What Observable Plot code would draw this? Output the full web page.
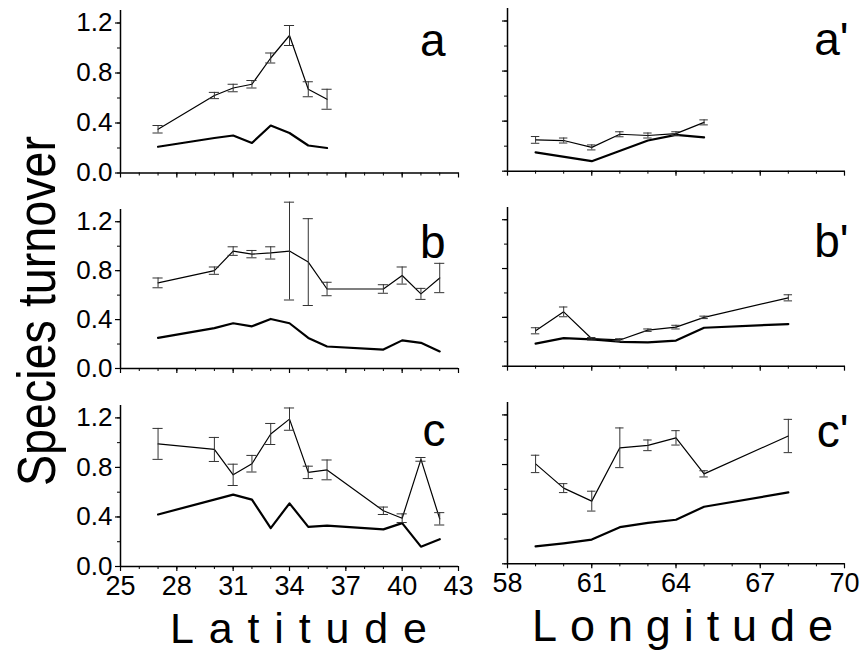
<!DOCTYPE html>
<html><head><meta charset="utf-8">
<script src="https://cdn.jsdelivr.net/npm/d3@7"></script>
<script src="https://cdn.jsdelivr.net/npm/@observablehq/plot@0.6"></script>
<style>
html,body{margin:0;padding:0;background:#fff;}
#chart{position:relative;width:866px;height:652px;overflow:hidden;font-family:"Liberation Sans",Arial,sans-serif;background:#fff;}
.panel{position:absolute;}
.panel svg{overflow:visible;max-width:none;background:transparent;}
#titles{position:absolute;left:0;top:0;pointer-events:none;}
</style></head><body><div id="chart"></div>
<script>
// ---- Data ----
// Latitude panels
const latA = [27, 30, 31, 32, 33, 34, 35, 36];
const turnA = [0.35, 0.62, 0.68, 0.71, 0.92, 1.10, 0.67, 0.59];
const errA = [0.03, 0.025, 0.03, 0.03, 0.04, 0.08, 0.06, 0.08];
const nullA = [0.21, 0.28, 0.30, 0.24, 0.38, 0.32, 0.22, 0.20];

const latB = [27, 30, 31, 32, 33, 34, 35, 36, 39, 40, 41, 42];
const turnB = [0.70, 0.80, 0.96, 0.935, 0.945, 0.96, 0.87, 0.65, 0.65, 0.76, 0.61, 0.74];
const errB = [0.04, 0.03, 0.035, 0.03, 0.05, 0.40, 0.355, 0.055, 0.035, 0.07, 0.045, 0.12];
const nullB = [0.25, 0.33, 0.37, 0.345, 0.405, 0.37, 0.25, 0.18, 0.155, 0.23, 0.21, 0.14];

const latC = [27, 30, 31, 32, 33, 34, 35, 36, 39, 40, 41, 42];
const turnC = [0.99, 0.945, 0.74, 0.83, 1.07, 1.19, 0.76, 0.78, 0.45, 0.39, 0.865, 0.385];
const errC = [0.125, 0.097, 0.086, 0.067, 0.085, 0.09, 0.05, 0.08, 0.03, 0.035, 0.015, 0.05];
const latCnull = [27, 31, 32, 33, 34, 35, 36, 39, 40, 41, 42];
const nullC = [0.42, 0.58, 0.54, 0.31, 0.51, 0.32, 0.33, 0.30, 0.35, 0.16, 0.22];

// Longitude panels
const lonA = [59, 60, 61, 62, 63, 64, 65];
const turnA2 = [0.25, 0.245, 0.19, 0.295, 0.285, 0.30, 0.39];
const errA2 = [0.027, 0.02, 0.02, 0.02, 0.02, 0.015, 0.02];
const lonAnull = [59, 61, 63, 64, 65];
const nullA2 = [0.15, 0.08, 0.245, 0.29, 0.27];

const lonB = [59, 60, 61, 62, 63, 64, 65, 68];
const turnB2 = [0.29, 0.445, 0.225, 0.215, 0.295, 0.32, 0.40, 0.56];
const errB2 = [0.025, 0.04, 0.01, 0.01, 0.01, 0.015, 0.01, 0.025];
const nullB2 = [0.185, 0.23, 0.22, 0.20, 0.195, 0.21, 0.315, 0.345];

const lonC = [59, 60, 61, 62, 63, 64, 65, 68];
const turnC2 = [0.805, 0.61, 0.505, 0.935, 0.955, 1.015, 0.725, 1.03];
const errC2 = [0.07, 0.036, 0.08, 0.16, 0.043, 0.058, 0.025, 0.134];
const nullC2 = [0.14, 0.165, 0.195, 0.295, 0.33, 0.355, 0.46, 0.575];

// Tick labels
const latMajor = [25, 28, 31, 34, 37, 40, 43];
const latMinor = d3.range(25, 44, 1);
const lonMajor = [58, 61, 64, 67, 70];
const lonMinor = d3.range(58, 71, 1);
const yMajor = [0, 0.4, 0.8, 1.2];
const yMinor = [0, 0.2, 0.4, 0.6, 0.8, 1.0, 1.2];
const panelLabels = ["a", "b", "c", "a'", "b'", "c'"];

// ---- Build ----
const rec = (xs, ys, es) => xs.map((x, i) => ({x, y: ys[i], e: es ? es[i] : 0}));
const chart = document.getElementById("chart");
const FONT = '"Liberation Sans", Arial, sans-serif';

function panel(o) {
  const turn = rec(o.xs, o.turn, o.err);
  const nul = rec(o.nx, o.ny);
  const h = o.bottom - o.top;
  const mt = 10;
  const svg = Plot.plot({
    width: o.width,
    height: mt + h + o.mb,
    marginLeft: o.ml, marginRight: o.mr, marginTop: mt, marginBottom: o.mb,
    x: {domain: o.domain, label: null},
    y: {domain: [0, 1.3], label: null},
    style: {fontFamily: FONT, fontSize: "26px", background: "transparent", color: "#000", overflow: "visible"},
    marks: [
      Plot.axisY(yMinor, {tickSize: 3, tickFormat: () => "", label: null, strokeWidth: 1}),
      Plot.axisY(yMajor, {tickSize: 5, tickPadding: 3, tickFormat: o.yLabels ? d3.format(".1f") : () => "", label: null, strokeWidth: 1.2}),
      Plot.axisX(o.minor, {tickSize: 3, tickFormat: () => "", label: null, strokeWidth: 1}),
      Plot.axisX(o.major, {tickSize: 5, tickPadding: 4, tickFormat: o.xLabels ? (d => String(d)) : () => "", label: null, strokeWidth: 1.2}),
      Plot.ruleX([o.domain[0]], {stroke: "#000", strokeWidth: 1.5}),
      Plot.ruleY([0], {stroke: "#000", strokeWidth: 1.5}),
      Plot.line(nul, {x: "x", y: "y", stroke: "#000", strokeWidth: 2.2}),
      Plot.line(turn, {x: "x", y: "y", stroke: "#000", strokeWidth: 1.2}),
      Plot.ruleX(turn, {x: "x", y1: d => d.y - d.e, y2: d => d.y + d.e, stroke: "#333", strokeWidth: 1}),
      Plot.ruleY(turn, {y: d => d.y + d.e, x1: d => d.x - o.cap, x2: d => d.x + o.cap, stroke: "#333", strokeWidth: 1}),
      Plot.ruleY(turn, {y: d => d.y - d.e, x1: d => d.x - o.cap, x2: d => d.x + o.cap, stroke: "#333", strokeWidth: 1}),
      Plot.text([o.label], {frameAnchor: "top-right", textAnchor: "end", lineAnchor: "bottom", dx: o.ldx, dy: o.ldy, fontSize: 46, fill: "#000"})
    ]
  });
  // enlarge numeric tick labels (inline style wins over any attribute)
  svg.querySelectorAll("text").forEach(el => {
    if (/^[0-9]/.test(el.textContent.trim())) {
      el.style.setProperty("font-size", o.xLabels && el.textContent.indexOf(".") < 0 ? "27px" : "26px", "important");
    }
  });
  const div = document.createElement("div");
  div.className = "panel";
  div.style.left = o.left + "px";
  div.style.top = (o.top - mt) + "px";
  div.style.width = o.width + "px";
  div.appendChild(svg);
  chart.appendChild(div);
}

const L = {left: 0, width: 475, ml: 120, mr: 17, domain: [25, 43], major: latMajor, minor: latMinor, yLabels: true, cap: 0.27, ldx: -13};
const R = {left: 440, width: 426, ml: 67, mr: 22, domain: [58, 70], major: lonMajor, minor: lonMinor, yLabels: false, cap: 0.15, ldx: 4};

panel({...L, xs: latA, turn: turnA, err: errA, nx: latA, ny: nullA, top: 10, bottom: 172.5, mb: 25, xLabels: false, label: panelLabels[0], ldy: 45});
panel({...L, xs: latB, turn: turnB, err: errB, nx: latB, ny: nullB, top: 209, bottom: 368, mb: 25, xLabels: false, label: panelLabels[1], ldy: 48});
panel({...L, xs: latC, turn: turnC, err: errC, nx: latCnull, ny: nullC, top: 405, bottom: 566, mb: 45, xLabels: true, label: panelLabels[2], ldy: 40});
panel({...R, xs: lonA, turn: turnA2, err: errA2, nx: lonAnull, ny: nullA2, top: 8, bottom: 170.7, mb: 25, xLabels: false, label: panelLabels[3], ldy: 47});
panel({...R, xs: lonB, turn: turnB2, err: errB2, nx: lonB, ny: nullB2, top: 207, bottom: 365.7, mb: 25, xLabels: false, label: panelLabels[4], ldy: 50});
panel({...R, xs: lonC, turn: turnC2, err: errC2, nx: lonC, ny: nullC2, top: 402, bottom: 563.3, mb: 45, xLabels: true, label: panelLabels[5], ldy: 45});

// Axis titles
const ns = "http://www.w3.org/2000/svg";
const t = document.createElementNS(ns, "svg");
t.setAttribute("id", "titles");
t.setAttribute("width", 866);
t.setAttribute("height", 652);
t.style.fontFamily = FONT;
function addText(str, attrs) {
  const el = document.createElementNS(ns, "text");
  for (const k in attrs) el.setAttribute(k, attrs[k]);
  el.textContent = str;
  t.appendChild(el);
}
addText("Species turnover", {transform: "translate(55,311) rotate(-90)", "text-anchor": "middle", "font-size": 54, textLength: 350, lengthAdjust: "spacingAndGlyphs"});
addText("Latitude", {x: 170, y: 643, "font-size": 43, textLength: 257, lengthAdjust: "spacing"});
addText("Longitude", {x: 532, y: 641, "font-size": 45, textLength: 301, lengthAdjust: "spacing"});
chart.appendChild(t);
</script>
</body></html>
